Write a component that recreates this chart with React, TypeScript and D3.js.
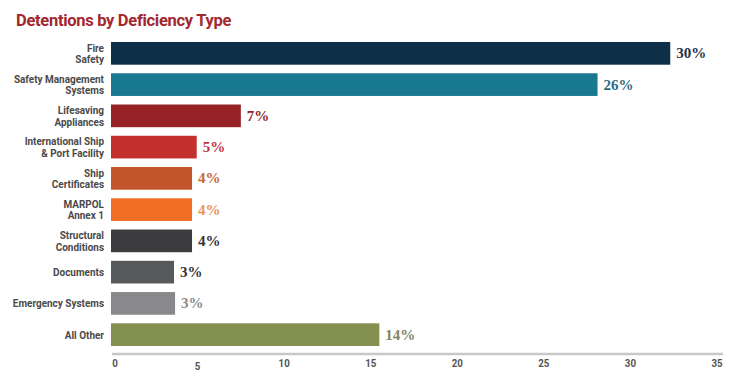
import React from "react";
import * as d3 from "d3";

const categories: string[][] = [
  ["Fire", "Safety"],
  ["Safety Management", "Systems"],
  ["Lifesaving", "Appliances"],
  ["International Ship", "& Port Facility"],
  ["Ship", "Certificates"],
  ["MARPOL", "Annex 1"],
  ["Structural", "Conditions"],
  ["Documents"],
  ["Emergency Systems"],
  ["All Other"],
];
const values: number[] = [32.3, 28.1, 7.5, 4.95, 4.68, 4.68, 4.68, 3.64, 3.7, 15.5];
const valueLabels: string[] = ["30%", "26%", "7%", "5%", "4%", "4%", "4%", "3%", "3%", "14%"];
const barColors: string[] = [
  "#0e2f48", "#18788f", "#962225", "#c22f2c", "#c2552a",
  "#f06f25", "#3c3c3e", "#58595b", "#89898b", "#839050",
];
const labelColors: string[] = [
  "#1e3446", "#2d6b86", "#8e2a2a", "#c03640", "#c0683e",
  "#e8935a", "#333333", "#333333", "#8a8a8a", "#7d8464",
];
const ticks: number[] = [0, 5, 10, 15, 20, 25, 30, 35];

const W = 747;
const H = 385;
const catFont = "Roboto, 'Liberation Sans', sans-serif";
const squeeze = 0.845;

export default function App() {
  const ids = categories.map((_, i) => String(i));
  const x = d3.scaleLinear().domain([0, 35]).range([111, 717]);
  const y = d3.scaleBand<string>().domain(ids).range([42, 346]).paddingInner(0.274).paddingOuter(0);
  const bh = y.bandwidth();

  return (
    <svg width={W} height={H} style={{ position: "absolute", left: 0, top: 0, background: "#fff" }}>
      <text x={16} y={26} fill="#a3272f" fontFamily="Roboto, 'Liberation Sans', sans-serif" fontWeight={700} fontSize={16.5} letterSpacing={-0.3}>
        Detentions by Deficiency Type
      </text>
      {ids.map((id, i) => {
        const y0 = y(id)!;
        const cy = y0 + bh / 2;
        const lines = categories[i];
        const lh = 11.5;
        return (
          <g key={id}>
            <rect x={x(0)} y={y0} width={x(values[i]) - x(0)} height={bh} fill={barColors[i]} />
            {lines.map((ln, j) => (
              <g key={j} transform={`translate(104,${cy + 4 + (j - (lines.length - 1) / 2) * lh}) scale(${squeeze},1)`}>
                <text
                  x={0}
                  y={0}
                  textAnchor="end"
                  fill="#4a4a4a"
                  fontFamily={catFont}
                  fontWeight={700}
                  fontSize={11.8}
                >
                  {ln}
                </text>
              </g>
            ))}
            <text
              x={x(values[i]) + 6}
              y={cy + 5}
              fill={labelColors[i]}
              fontFamily="'Liberation Serif', 'DejaVu Serif', serif"
              fontWeight={700}
              fontSize={15}
            >
              {valueLabels[i]}
            </text>
          </g>
        );
      })}
      <line x1={x(0) + 1} x2={x(35) + 6} y1={354} y2={354} stroke="#c8c8c8" strokeWidth={2.5} />
      {ticks.map((t) => (
        <g key={t} transform={`translate(${x(t) + (t === 0 ? 4 : 0)},${t === 5 ? 370 : 367}) scale(${squeeze},1)`}>
          <text
            x={0}
            y={0}
            textAnchor="middle"
            fill="#555"
            fontFamily={catFont}
            fontWeight={700}
            fontSize={11.5}
          >
            {t}
          </text>
        </g>
      ))}
    </svg>
  );
}
